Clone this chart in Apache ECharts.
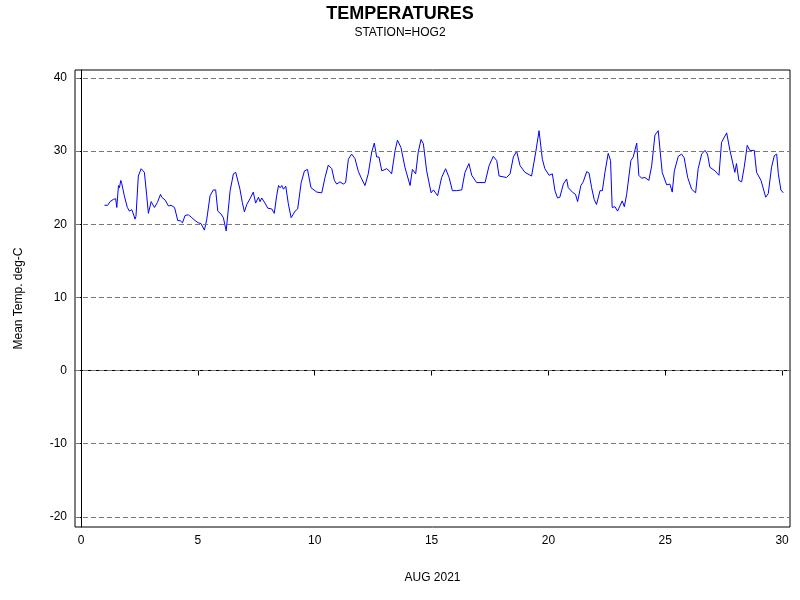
<!DOCTYPE html>
<html><head><meta charset="utf-8">
<script src="https://cdn.jsdelivr.net/npm/echarts@6/dist/echarts.min.js"></script>
<style>html,body{margin:0;padding:0;background:#fff}#c{width:800px;height:600px}</style>
</head><body><div id="c"></div>
<script>
const days = [1.0,1.14,1.24,1.38,1.48,1.53,1.6,1.64,1.7,1.74,1.85,1.98,2.07,2.17,2.24,2.31,2.35,2.45,2.57,2.64,2.71,2.81,2.88,3.0,3.14,3.27,3.4,3.45,3.6,3.74,3.85,4.0,4.14,4.24,4.34,4.45,4.59,4.74,4.88,5.02,5.13,5.28,5.38,5.52,5.66,5.76,5.85,5.99,6.09,6.21,6.28,6.38,6.52,6.62,6.7,6.8,6.9,6.99,7.09,7.23,7.3,7.37,7.47,7.59,7.66,7.73,7.87,7.99,8.16,8.27,8.37,8.45,8.52,8.59,8.66,8.76,8.87,8.99,9.06,9.16,9.27,9.42,9.56,9.69,9.84,10.09,10.3,10.44,10.58,10.73,10.84,10.94,11.08,11.22,11.32,11.44,11.58,11.72,11.87,11.98,12.15,12.29,12.44,12.55,12.65,12.75,12.87,13.08,13.22,13.29,13.44,13.54,13.69,13.86,14.08,14.18,14.32,14.43,14.55,14.65,14.79,14.98,15.08,15.26,15.43,15.6,15.75,15.89,16.07,16.29,16.43,16.6,16.72,16.93,17.29,17.46,17.64,17.79,17.89,18.21,18.36,18.5,18.64,18.79,19.0,19.28,19.46,19.6,19.74,19.85,20.03,20.17,20.28,20.39,20.49,20.64,20.78,20.85,21.06,21.16,21.25,21.39,21.49,21.64,21.74,21.85,21.96,22.06,22.21,22.31,22.42,22.56,22.66,22.73,22.85,22.96,23.06,23.16,23.25,23.35,23.53,23.63,23.78,23.87,23.99,24.13,24.3,24.42,24.56,24.7,24.87,25.06,25.2,25.3,25.39,25.56,25.7,25.81,25.96,26.13,26.3,26.41,26.56,26.7,26.81,26.91,27.13,27.3,27.41,27.63,27.77,27.98,28.05,28.15,28.27,28.38,28.51,28.62,28.81,28.91,29.1,29.3,29.41,29.55,29.67,29.77,29.84,29.95,30.05];
const temps = [22.6,22.6,23.1,23.4,23.5,22.3,25.3,25.0,26.0,25.6,23.9,22.3,21.8,22.0,21.4,20.7,21.1,26.6,27.6,27.8,27.1,23.9,21.5,23.1,22.3,23.0,24.1,23.7,23.3,22.5,22.6,22.3,20.5,20.5,20.2,21.2,21.3,20.9,20.5,20.2,20.1,19.2,20.7,23.9,24.7,24.7,21.8,21.4,20.9,19.1,19.3,24.6,26.9,27.1,26.9,24.8,23.0,21.7,22.7,23.5,23.7,24.4,22.9,23.7,23.1,23.6,22.9,22.2,22.1,21.5,23.9,25.3,25.0,25.3,24.8,25.2,22.8,20.9,20.8,21.8,22.1,25.7,27.3,27.5,25.0,24.4,24.3,26.4,28.1,27.6,26.0,25.5,25.8,25.5,25.7,28.9,29.6,29.0,27.2,26.4,25.3,26.9,29.9,31.1,29.2,29.2,27.3,27.6,27.2,26.9,30.1,31.5,30.5,27.8,25.3,27.5,26.9,29.9,31.6,31.0,27.3,24.3,24.7,23.9,26.4,27.6,26.4,24.6,24.6,24.7,27.1,28.3,26.7,25.7,25.7,28.0,29.3,28.7,26.6,26.4,26.9,29.2,30.0,28.0,27.1,26.6,29.9,32.8,28.9,27.6,26.7,26.9,24.6,23.6,23.7,25.5,26.2,25.0,24.3,24.1,23.1,25.3,25.8,27.2,27.0,25.0,23.4,22.7,24.6,24.6,27.1,29.7,28.7,22.3,22.4,21.8,22.5,23.2,22.4,24.1,28.7,29.2,31.1,26.7,26.3,26.4,26.0,28.0,32.2,32.8,27.1,25.4,25.5,24.4,27.3,29.3,29.6,29.1,26.4,24.8,24.3,27.6,29.6,30.1,29.6,27.8,27.3,26.7,31.2,32.5,30.1,27.1,28.3,26.0,25.8,27.8,30.8,30.1,30.1,27.1,26.0,23.7,24.2,27.8,29.4,29.6,26.9,24.7,24.3];
const xTicks = [0,5,10,15,20,25,30];
const yTicks = [-20,-10,0,10,20,30,40];

const chart = echarts.init(document.getElementById('c'));
const font = 'Liberation Sans, Arial, sans-serif';
chart.setOption({
  animation:false,
  title:{text:'TEMPERATURES',subtext:'STATION=HOG2',left:'center',top:0,itemGap:4,
    textStyle:{fontSize:18,fontWeight:'bold',color:'#000',fontFamily:font},
    subtextStyle:{fontSize:12,color:'#000',fontFamily:font}},
  grid:{left:75,right:10,top:70,bottom:73,show:true,borderColor:'#000',borderWidth:1},
  xAxis:{type:'value',min:-0.26,max:30.34,
    name:'AUG 2021',nameLocation:'middle',nameGap:45,nameTextStyle:{fontSize:12,color:'#000',fontFamily:font},
    axisLine:{lineStyle:{color:'#000'}},
    axisTick:{customValues:xTicks,length:5,lineStyle:{color:'#000'}},
    axisLabel:{customValues:xTicks,color:'#000',fontSize:12,fontFamily:font},
    splitLine:{show:false}},
  yAxis:{type:'value',min:-21.4,max:41.1,
    name:'Mean Temp. deg-C',nameLocation:'middle',nameGap:50,nameTextStyle:{fontSize:12,color:'#000',fontFamily:font},
    axisLine:{show:true,lineStyle:{color:'#000'}},
    axisTick:{show:true,customValues:yTicks,length:5,lineStyle:{color:'#000'}},
    axisLabel:{customValues:yTicks,color:'#000',fontSize:12,fontFamily:font},
    splitLine:{show:false}},
  series:[{type:'line',data:days.map((d,i)=>[d,temps[i]]),showSymbol:false,
    lineStyle:{color:'#0000ff',width:1},
    markLine:{silent:true,symbol:'none',label:{show:false},
      lineStyle:{type:[5,3],color:'#777',width:1},
      data:yTicks.map(v=>({yAxis:v}))}}]
});
</script></body></html>
